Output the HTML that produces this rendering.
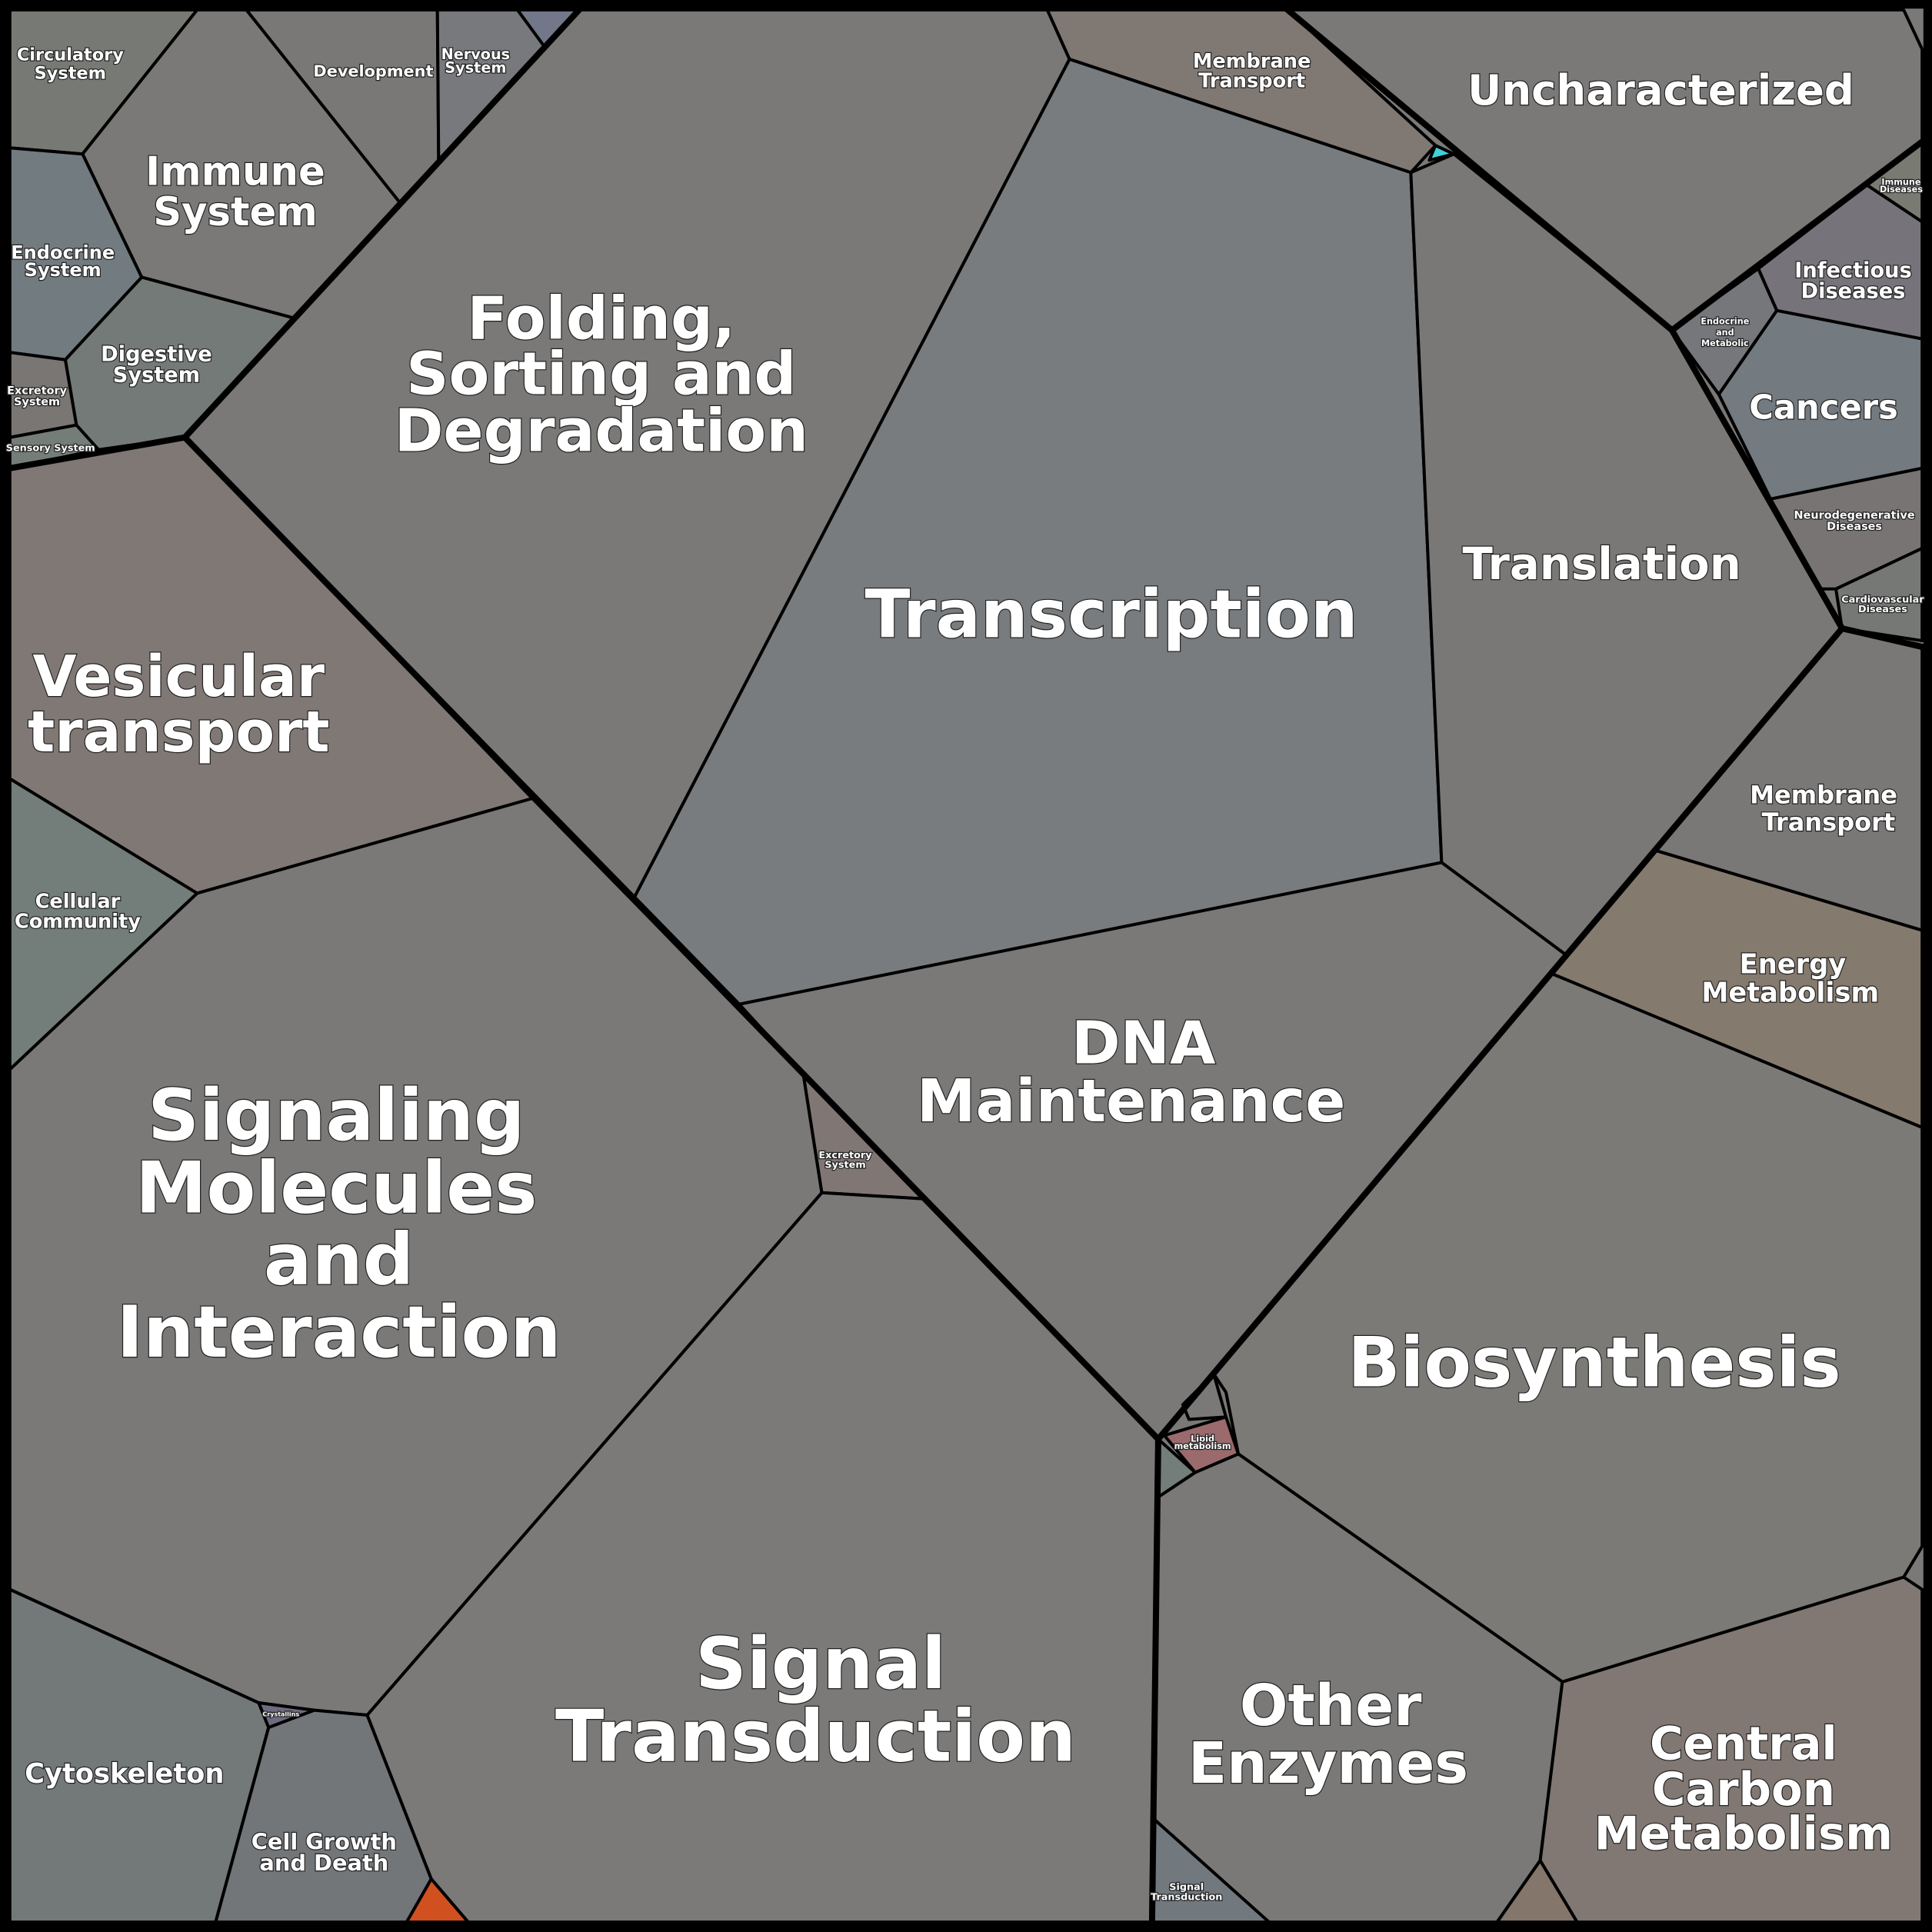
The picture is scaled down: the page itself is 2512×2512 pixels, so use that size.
<!DOCTYPE html>
<html><head><meta charset="utf-8"><style>
html,body{margin:0;padding:0;background:#7a7977;}
svg{display:block;}
text{font-family:"DejaVu Sans","Liberation Sans",sans-serif;font-weight:bold;fill:#fff;stroke:#222;stroke-width:1.5;paint-order:stroke;text-anchor:middle;}
polygon{stroke:#000;stroke-width:2.5;stroke-linejoin:round;}
</style></head><body>
<svg width="2512" height="2512" viewBox="0 0 1568 1568" xmlns="http://www.w3.org/2000/svg">
<rect x="0" y="0" width="1568" height="1568" fill="#7a7977"/>
<g>
<polygon fill="#7a7977" points="150,355 470,8 850,8 868,48 515,728"/>
<polygon fill="#797c7e" points="868,48 1145,140 1170,700 600,815 515,728"/>
<polygon fill="#807873" points="850,8 1045,8 1165,118 1145,140 868,48"/>
<polygon fill="#40d0d8" points="1165,118 1180,125 1160,130"/>
<polygon fill="#7a7978" points="1045,8 1545,8 1560,40 1560,115 1515,150 1357,268 1180,125 1165,118"/>
<polygon fill="#7a7876" points="1145,140 1180,125 1357,268 1395,320 1437,405 1478,478 1495,510 1271,775 1170,700"/>
<polygon fill="#7a7978" points="600,815 1170,700 1271,775 985,1115 940,1168 750,973 652,872"/>
<polygon fill="#7c7a76" points="1259,790 1560,915 1560,1255 1545,1280 1268,1365 1005,1180 995,1130 985,1115"/>
<polygon fill="#857a6e" points="1259,790 1343,690 1560,755 1560,915"/>
<polygon fill="#7a7876" points="1343,690 1495,510 1560,525 1560,755"/>
<polygon fill="#737a80" points="1395,320 1442,252 1560,275 1560,380 1437,405"/>
<polygon fill="#76747a" points="1427,218 1515,150 1560,180 1560,275 1442,252"/>
<polygon fill="#75777a" points="1357,268 1427,218 1442,252 1395,320"/>
<polygon fill="#787474" points="1437,405 1560,380 1560,445 1490,478 1478,478"/>
<polygon fill="#767876" points="1490,478 1560,445 1560,520 1495,510"/>
<polygon fill="#797a72" points="1515,150 1560,115 1560,180"/>
<polygon fill="#807875" points="8,380 150,355 432,648 160,725 8,632"/>
<polygon fill="#737d79" points="8,632 160,725 8,868"/>
<polygon fill="#7a7977" points="8,868 160,725 432,648 652,872 667,968 298,1392 255,1388 210,1382 8,1290"/>
<polygon fill="#807775" points="652,872 750,973 667,968"/>
<polygon fill="#7b7a78" points="667,968 750,973 940,1168 935,1560 380,1560 350,1525 298,1392"/>
<polygon fill="#737878" points="8,1290 210,1382 218,1402 175,1560 8,1560"/>
<polygon fill="#737679" points="218,1402 255,1388 298,1392 350,1525 330,1560 175,1560"/>
<polygon fill="#6e6a80" points="210,1382 255,1388 218,1402"/>
<polygon fill="#d05020" points="350,1525 380,1560 330,1560"/>
<polygon fill="#7a7977" points="940,1215 970,1195 1005,1180 1268,1365 1250,1510 1215,1560 1030,1560 935,1475"/>
<polygon fill="#71787e" points="935,1475 1030,1560 935,1560"/>
<polygon fill="#817873" points="1268,1365 1545,1280 1560,1290 1560,1560 1280,1560 1250,1510"/>
<polygon fill="#84766a" points="1250,1510 1280,1560 1215,1560"/>
<polygon fill="#9a6a6c" points="945,1165 995,1150 1005,1180 970,1195"/>
<polygon fill="#7a7978" points="960,1140 985,1115 995,1150 965,1152"/>
<polygon fill="#737d79" points="940,1168 970,1195 940,1215"/>
<polygon fill="#777a74" points="8,8 160,8 67,125 8,120"/>
<polygon fill="#7a7977" points="160,8 200,8 325,165 238,258 115,225 67,125"/>
<polygon fill="#797876" points="200,8 355,8 356,130 325,165"/>
<polygon fill="#78797d" points="355,8 420,8 442,38 356,130"/>
<polygon fill="#72788a" points="420,8 470,8 442,38"/>
<polygon fill="#727b80" points="8,120 67,125 115,225 53,292 8,286"/>
<polygon fill="#747a78" points="53,292 115,225 238,258 150,355 80,365 62,345"/>
<polygon fill="#7a7674" points="8,286 53,292 62,345 8,355"/>
<polygon fill="#747d78" points="8,355 62,345 80,365 8,380"/>
</g>
<g fill="none" stroke="#000" stroke-width="5" stroke-linecap="round">
<polyline points="470,8 150,355 940,1168 1495,510 1560,525"/>
<polyline points="1045,8 1357,268 1495,510"/>
<polyline points="1357,268 1560,115"/>
<polyline points="940,1168 935,1560"/>
<polyline points="8,380 150,355"/>
<rect x="3.5" y="3.5" width="1561" height="1561" stroke-width="7"/>
</g>
<text x="488" y="275" font-size="48">Folding,</text>
<text x="488" y="320" font-size="48">Sorting and</text>
<text x="488" y="366" font-size="48">Degradation</text>
<text x="902" y="517" font-size="54">Transcription</text>
<text x="1300" y="470" font-size="36">Translation</text>
<text x="1348" y="85" font-size="34">Uncharacterized</text>
<text x="1016" y="55" font-size="16">Membrane</text>
<text x="1016" y="71" font-size="16">Transport</text>
<text x="928" y="863" font-size="48">DNA</text>
<text x="918" y="910" font-size="48">Maintenance</text>
<text x="1294" y="1125" font-size="56">Biosynthesis</text>
<text x="1480" y="652" font-size="20">Membrane</text>
<text x="1484" y="674" font-size="20">Transport</text>
<text x="1455" y="790" font-size="22">Energy</text>
<text x="1453" y="813" font-size="22">Metabolism</text>
<text x="1480" y="340" font-size="27">Cancers</text>
<text x="1504" y="225" font-size="17">Infectious</text>
<text x="1504" y="242" font-size="17">Diseases</text>
<text x="1505" y="421" font-size="9" stroke-width="0.8">Neurodegenerative</text>
<text x="1505" y="430" font-size="9" stroke-width="0.8">Diseases</text>
<text x="1528" y="489" font-size="8" stroke-width="0.8">Cardiovascular</text>
<text x="1528" y="497" font-size="8" stroke-width="0.8">Diseases</text>
<text x="1400" y="263" font-size="7" stroke-width="0.6">Endocrine</text>
<text x="1400" y="272" font-size="7" stroke-width="0.6">and</text>
<text x="1400" y="281" font-size="7" stroke-width="0.6">Metabolic</text>
<text x="1543" y="150" font-size="7" stroke-width="0.6">Immune</text>
<text x="1543" y="156" font-size="7" stroke-width="0.6">Diseases</text>
<text x="145" y="565" font-size="46">Vesicular</text>
<text x="145" y="610" font-size="46">transport</text>
<text x="63" y="737" font-size="16">Cellular</text>
<text x="63" y="753" font-size="16">Community</text>
<text x="273" y="925" font-size="58">Signaling</text>
<text x="273" y="984" font-size="58">Molecules</text>
<text x="275" y="1042" font-size="58">and</text>
<text x="275" y="1101" font-size="58">Interaction</text>
<text x="686" y="940" font-size="8" stroke-width="0.7">Excretory</text>
<text x="686" y="948" font-size="8" stroke-width="0.7">System</text>
<text x="666" y="1370" font-size="58">Signal</text>
<text x="662" y="1429" font-size="58">Transduction</text>
<text x="101" y="1447" font-size="22">Cytoskeleton</text>
<text x="263" y="1501" font-size="18">Cell Growth</text>
<text x="263" y="1518" font-size="18">and Death</text>
<text x="1080" y="1400" font-size="46">Other</text>
<text x="1078" y="1447" font-size="46">Enzymes</text>
<text x="1415" y="1428" font-size="37">Central</text>
<text x="1415" y="1465" font-size="37">Carbon</text>
<text x="1415" y="1501" font-size="37">Metabolism</text>
<text x="963" y="1534" font-size="8" stroke-width="0.7">Signal</text>
<text x="963" y="1542" font-size="8" stroke-width="0.7">Transduction</text>
<text x="976" y="1170" font-size="7" stroke-width="0.6">Lipid</text>
<text x="976" y="1176" font-size="7" stroke-width="0.6">metabolism</text>
<text x="57" y="49" font-size="14">Circulatory</text>
<text x="57" y="64" font-size="14">System</text>
<text x="191" y="150" font-size="32">Immune</text>
<text x="191" y="183" font-size="32">System</text>
<text x="303" y="62" font-size="13">Development</text>
<text x="386" y="48" font-size="12">Nervous</text>
<text x="386" y="59" font-size="12">System</text>
<text x="51" y="210" font-size="15">Endocrine</text>
<text x="51" y="224" font-size="15">System</text>
<text x="127" y="293" font-size="17">Digestive</text>
<text x="127" y="310" font-size="17">System</text>
<text x="30" y="320" font-size="9" stroke-width="0.8">Excretory</text>
<text x="30" y="329" font-size="9" stroke-width="0.8">System</text>
<text x="41" y="366" font-size="8" stroke-width="0.7">Sensory System</text>
<text x="228" y="1393" font-size="5" stroke-width="0.4">Crystallins</text>
</svg>
</body></html>
